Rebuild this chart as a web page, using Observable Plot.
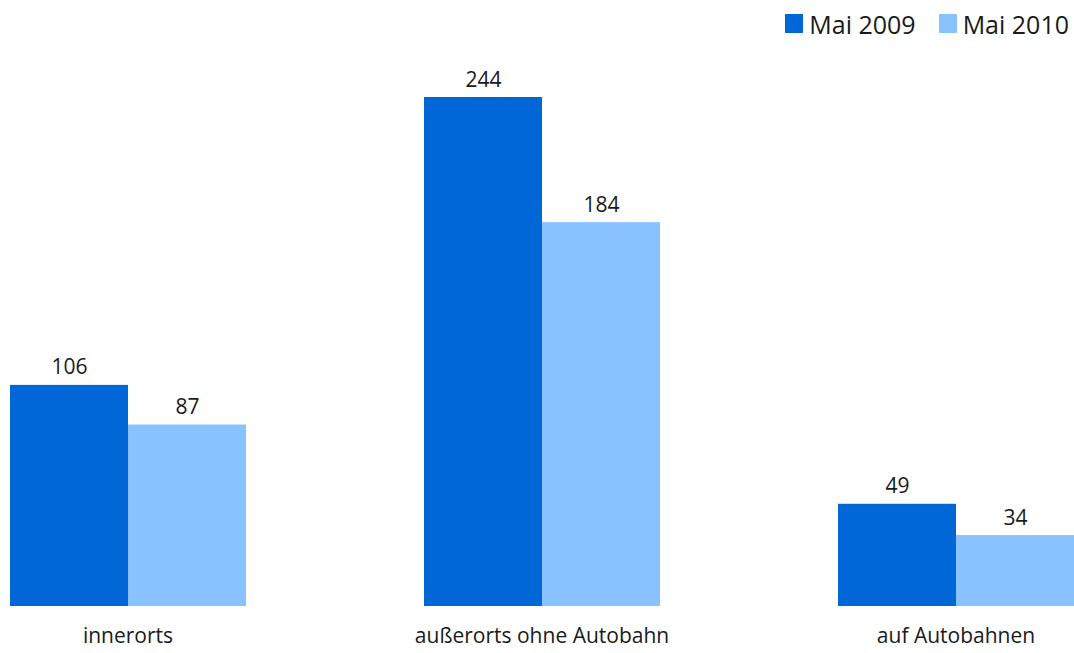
<!DOCTYPE html>
<html>
<head>
<meta charset="utf-8">
<script src="https://cdn.jsdelivr.net/npm/d3@7"></script>
<script src="https://cdn.jsdelivr.net/npm/@observablehq/plot@0.6"></script>
<style>
  html, body { margin: 0; padding: 0; background: #fff; }
  body { width: 1074px; height: 653px; overflow: hidden; font-family: "Open Sans", sans-serif; }
  #legend { height: 47px; display: flex; justify-content: flex-end; align-items: center; padding-right: 5px; font-size: 25px; color: #1a1a1a; }
  .item { display: flex; align-items: center; margin-left: 23px; }
  .sw { width: 18px; height: 19px; margin-right: 6px; }
</style>
</head>
<body>
<div id="legend"></div>
<div id="chart"></div>
<script>
const categories = ["innerorts", "außerorts ohne Autobahn", "auf Autobahnen"];
const seriesNames = ["Mai 2009", "Mai 2010"];
const values2009 = [106, 244, 49];
const values2010 = [87, 184, 34];
const colors = ["#0068d6", "#88c2ff"];

const data = [];
categories.forEach((c, i) => {
  data.push({category: c, series: seriesNames[0], value: values2009[i]});
  data.push({category: c, series: seriesNames[1], value: values2010[i]});
});

const legend = document.getElementById("legend");
seriesNames.forEach((s, i) => {
  const it = document.createElement("div");
  it.className = "item";
  const sw = document.createElement("div");
  sw.className = "sw";
  sw.style.background = colors[i];
  it.appendChild(sw);
  const t = document.createElement("span");
  t.textContent = s;
  it.appendChild(t);
  legend.appendChild(it);
});

const chart = Plot.plot({
  width: 1074,
  height: 606,
  marginLeft: 9,
  marginRight: 0,
  marginTop: 50,
  marginBottom: 47,
  style: {fontFamily: "'Open Sans', sans-serif", fontSize: "21px", color: "#1a1a1a"},
  fx: {domain: categories, paddingInner: 0.428, paddingOuter: 0, label: null},
  x: {domain: seriesNames, padding: 0, axis: null},
  y: {domain: [0, 244], axis: null},
  color: {domain: seriesNames, range: colors},
  marks: [
    Plot.barY(data, {fx: "category", x: "series", y: "value", fill: "series"}),
    Plot.text(data, {fx: "category", x: "series", y: "value", text: d => String(d.value), lineAnchor: "bottom", dy: -11, fontSize: 21, fill: "#1a1a1a"}),
    Plot.axisFx({anchor: "bottom", tickSize: 0, tickPadding: 22, fontSize: 21, label: null})
  ]
});
document.getElementById("chart").appendChild(chart);
</script>
</body>
</html>
